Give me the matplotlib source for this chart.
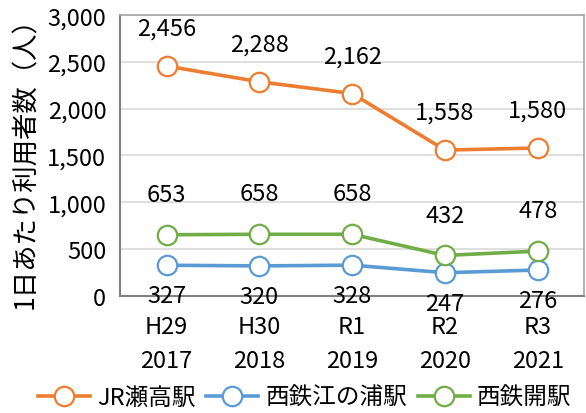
import numpy as np
import matplotlib.pyplot as plt
from matplotlib.lines import Line2D

plt.rcParams['font.family'] = ['Noto Sans CJK JP', 'DejaVu Sans']

# data
categories = ['H29\n2017', 'H30\n2018', 'R1\n2019', 'R2\n2020', 'R3\n2021']
seko = [2456, 2288, 2162, 1558, 1580]
enoura = [327, 320, 328, 247, 276]
kai = [653, 658, 658, 432, 478]
series_names = ['JR瀬高駅', '西鉄江の浦駅', '西鉄開駅']

orange = '#ED7D31'
blue = '#5B9BD5'
green = '#70AD47'

fig = plt.figure(figsize=(5.86, 4.14), dpi=100)
ax = fig.add_axes([0.205, 0.283, 0.792, 0.678])

x = np.arange(len(categories))
mk = dict(marker='o', markersize=14, markerfacecolor='white', markeredgewidth=1.6, linewidth=2.6)
ax.plot(x, seko, color=orange, zorder=3, **mk)
ax.plot(x, enoura, color=blue, zorder=3, **mk)
ax.plot(x, kai, color=green, zorder=4, **mk)

fs = 17
for i in range(len(x)):
    ax.annotate(f'{seko[i]:,}', (x[i], seko[i]), xytext=(0, 27), textcoords='offset points',
                ha='center', va='center', fontsize=fs)
    ax.annotate(f'{kai[i]:,}', (x[i], kai[i]), xytext=(0, 29), textcoords='offset points',
                ha='center', va='center', fontsize=fs)
    ax.annotate(f'{enoura[i]:,}', (x[i], enoura[i]), xytext=(0, -22), textcoords='offset points',
                ha='center', va='center', fontsize=fs)

ax.set_xlim(-0.5, 4.5)
ax.set_ylim(0, 3000)
ax.set_yticks(np.arange(0, 3001, 500))
ax.set_yticklabels([f'{v:,}' for v in range(0, 3001, 500)], fontsize=fs)
ax.set_xticks(x)
ax.set_xticklabels(categories, fontsize=fs, linespacing=1.6)
ax.tick_params(axis='x', length=0, pad=14)
ax.tick_params(axis='y', length=0, pad=10)
ax.grid(axis='y', color='#d9d9d9', linewidth=1.2)
ax.set_axisbelow(True)
for s in ['top', 'right']:
    ax.spines[s].set_color('#a6a6a6')
    ax.spines[s].set_linewidth(1.2)
for s in ['left', 'bottom']:
    ax.spines[s].set_color('#808080')
    ax.spines[s].set_linewidth(1.5)

ax.set_ylabel('1日あたり利用者数（人）', fontsize=19, labelpad=6)

handles = [Line2D([], [], color=c, **mk) for c in (orange, blue, green)]
fig.legend(handles, series_names, loc='lower center', bbox_to_anchor=(0.52, -0.03), ncol=3,
           frameon=False, fontsize=17, handlelength=2.2, columnspacing=0.45, handletextpad=0.3,
           borderpad=0.2)

fig.savefig('out.png', dpi=100)
